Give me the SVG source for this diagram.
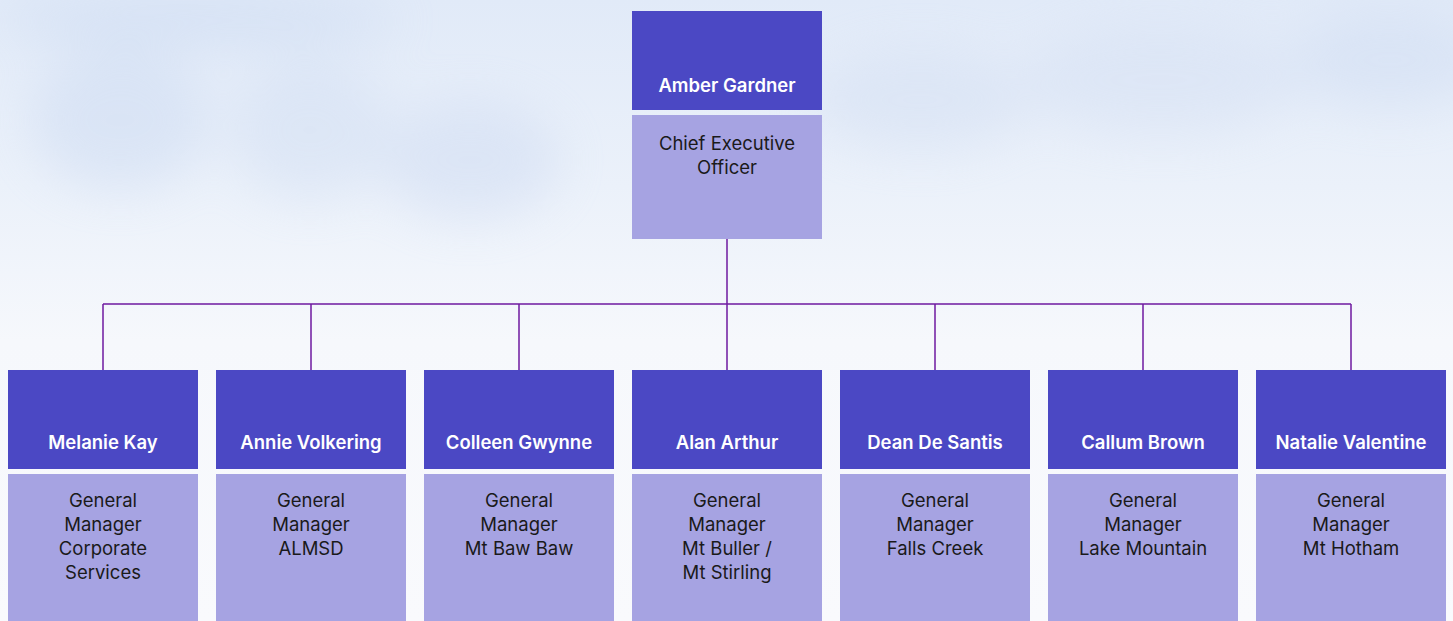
<svg xmlns="http://www.w3.org/2000/svg" width="1453" height="621" viewBox="0 0 1453 621">
<defs>
<linearGradient id="bg" x1="0" y1="0" x2="0" y2="1">
<stop offset="0" stop-color="#e1eaf8"/>
<stop offset="0.3" stop-color="#ebf1fa"/>
<stop offset="0.55" stop-color="#f6f8fc"/>
<stop offset="1" stop-color="#f9fafd"/>
</linearGradient>
<filter id="blur" x="-50%" y="-50%" width="200%" height="200%"><feGaussianBlur stdDeviation="25"/></filter>
<style>
.name{fill:#4b48c4}
.role{fill:#a6a3e2}
.nt{font-family:Inter,"Liberation Sans",sans-serif;font-size:18.5px;font-weight:600;fill:#ffffff;text-anchor:middle}
.rt{font-family:Inter,"Liberation Sans",sans-serif;font-size:18.5px;font-weight:400;fill:#1a1a1a;text-anchor:middle}
.ln{stroke:#6f1aa0;stroke-width:1.5;fill:none}
</style>
</defs>
<rect x="0" y="0" width="1453" height="621" fill="url(#bg)"/>
<g filter="url(#blur)" opacity="0.4">
<ellipse cx="120" cy="120" rx="90" ry="70" fill="#c6d6f0"/>
<ellipse cx="310" cy="130" rx="80" ry="70" fill="#ccdaf1"/>
<ellipse cx="470" cy="160" rx="90" ry="60" fill="#c8d6f0"/>
<ellipse cx="920" cy="100" rx="110" ry="50" fill="#cfdbf1"/>
<ellipse cx="1160" cy="80" rx="140" ry="55" fill="#d1ddf2"/>
<ellipse cx="1390" cy="60" rx="100" ry="50" fill="#cbd9f1"/>
<ellipse cx="200" cy="20" rx="200" ry="25" fill="#c3d4ef"/>
</g>
<g id="connectors">
<path class="ln" d="M727 239V304M103 304H1351M103 304V370M311 304V370M519 304V370M727 304V370M935 304V370M1143 304V370M1351 304V370"/>
</g>
<g id="amber-gardner">
<rect class="name" x="632" y="11" width="190" height="99"/>
<rect class="role" x="632" y="115" width="190" height="124"/>
<text class="nt" x="727" y="91.5">Amber Gardner</text>
<text class="rt" x="727" y="149.5">Chief Executive</text>
<text class="rt" x="727" y="173.5">Officer</text>
</g>
<g id="melanie-kay">
<rect class="name" x="8" y="370" width="190" height="99"/>
<rect class="role" x="8" y="474" width="190" height="147"/>
<text class="nt" x="103" y="448.5">Melanie Kay</text>
<text class="rt" x="103" y="506.5">General</text>
<text class="rt" x="103" y="530.5">Manager</text>
<text class="rt" x="103" y="554.5">Corporate</text>
<text class="rt" x="103" y="578.5">Services</text>
</g>
<g id="annie-volkering">
<rect class="name" x="216" y="370" width="190" height="99"/>
<rect class="role" x="216" y="474" width="190" height="147"/>
<text class="nt" x="311" y="448.5">Annie Volkering</text>
<text class="rt" x="311" y="506.5">General</text>
<text class="rt" x="311" y="530.5">Manager</text>
<text class="rt" x="311" y="554.5">ALMSD</text>
</g>
<g id="colleen-gwynne">
<rect class="name" x="424" y="370" width="190" height="99"/>
<rect class="role" x="424" y="474" width="190" height="147"/>
<text class="nt" x="519" y="448.5">Colleen Gwynne</text>
<text class="rt" x="519" y="506.5">General</text>
<text class="rt" x="519" y="530.5">Manager</text>
<text class="rt" x="519" y="554.5">Mt Baw Baw</text>
</g>
<g id="alan-arthur">
<rect class="name" x="632" y="370" width="190" height="99"/>
<rect class="role" x="632" y="474" width="190" height="147"/>
<text class="nt" x="727" y="448.5">Alan Arthur</text>
<text class="rt" x="727" y="506.5">General</text>
<text class="rt" x="727" y="530.5">Manager</text>
<text class="rt" x="727" y="554.5">Mt Buller /</text>
<text class="rt" x="727" y="578.5">Mt Stirling</text>
</g>
<g id="dean-de-santis">
<rect class="name" x="840" y="370" width="190" height="99"/>
<rect class="role" x="840" y="474" width="190" height="147"/>
<text class="nt" x="935" y="448.5">Dean De Santis</text>
<text class="rt" x="935" y="506.5">General</text>
<text class="rt" x="935" y="530.5">Manager</text>
<text class="rt" x="935" y="554.5">Falls Creek</text>
</g>
<g id="callum-brown">
<rect class="name" x="1048" y="370" width="190" height="99"/>
<rect class="role" x="1048" y="474" width="190" height="147"/>
<text class="nt" x="1143" y="448.5">Callum Brown</text>
<text class="rt" x="1143" y="506.5">General</text>
<text class="rt" x="1143" y="530.5">Manager</text>
<text class="rt" x="1143" y="554.5">Lake Mountain</text>
</g>
<g id="natalie-valentine">
<rect class="name" x="1256" y="370" width="190" height="99"/>
<rect class="role" x="1256" y="474" width="190" height="147"/>
<text class="nt" x="1351" y="448.5">Natalie Valentine</text>
<text class="rt" x="1351" y="506.5">General</text>
<text class="rt" x="1351" y="530.5">Manager</text>
<text class="rt" x="1351" y="554.5">Mt Hotham</text>
</g>
</svg>
